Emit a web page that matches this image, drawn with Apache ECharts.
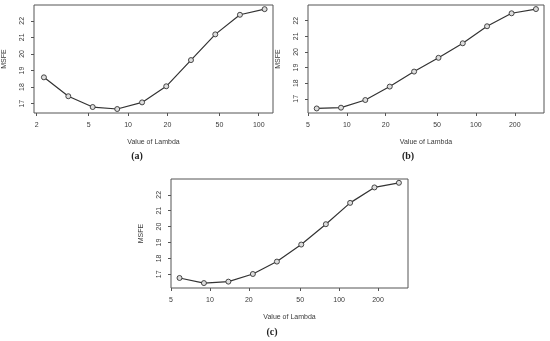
<!DOCTYPE html>
<html><head><meta charset="utf-8">
<style>html,body{margin:0;padding:0;background:#fff}#c{width:550px;height:341px}</style>
<script src="https://cdn.jsdelivr.net/npm/echarts@6/dist/echarts.min.js"></script>
</head><body><div id="c"></div>
<script>
const lambdaA = [2.27, 3.49, 5.36, 8.26, 12.8, 19.6, 30.3, 46.5, 71.8, 110.9];
const msfeA = [18.59, 17.45, 16.80, 16.68, 17.08, 18.05, 19.63, 21.18, 22.36, 22.70];
const lambdaB = [5.84, 9.01, 13.9, 21.5, 33.2, 51.3, 79.1, 122, 189, 292];
const msfeB = [16.38, 16.43, 16.92, 17.78, 18.74, 19.62, 20.55, 21.64, 22.47, 22.74];
const lambdaC = [5.82, 8.99, 13.9, 21.5, 33.0, 50.9, 78.9, 121.6, 187.5, 290];
const msfeC = [16.77, 16.45, 16.54, 17.02, 17.80, 18.87, 20.15, 21.49, 22.46, 22.75];
const xTicksA = [2, 5, 10, 20, 50, 100];
const xTicksBC = [5, 10, 20, 50, 100, 200];
const yTicks = [17, 18, 19, 20, 21, 22];
const captions = ['(a)', '(b)', '(c)'];
const xTitle = 'Value of Lambda';
const yTitle = 'MSFE';

const chart = echarts.init(document.getElementById('c'), null, {renderer: 'canvas'});
const txt = '#3a3a3a';
const axisFont = {fontFamily: 'Liberation Sans', fontSize: 7, color: txt};

const panels = [
  {grid: {left: 34, top: 5, width: 239, height: 108}, xmin: 1.906, xmax: 128.6, ymin: 16.44, ymax: 22.95, xt: xTicksA, xs: lambdaA, ys: msfeA},
  {grid: {left: 308, top: 5, width: 236, height: 108}, xmin: 5.0, xmax: 337, ymin: 16.09, ymax: 23.0, xt: xTicksBC, xs: lambdaB, ys: msfeB},
  {grid: {left: 171, top: 179, width: 237, height: 109}, xmin: 5.0, xmax: 341, ymin: 16.14, ymax: 22.99, xt: xTicksBC, xs: lambdaC, ys: msfeC}
];

const option = {
  animation: false,
  backgroundColor: '#fff',
  grid: panels.map(p => Object.assign({show: true, borderColor: '#555', borderWidth: 1, backgroundColor: 'transparent'}, p.grid)),
  xAxis: panels.map((p, i) => ({
    type: 'log', logBase: 10, gridIndex: i, min: p.xmin, max: p.xmax,
    name: xTitle, nameLocation: 'middle', nameGap: 26,
    nameTextStyle: axisFont,
    axisLine: {show: false},
    splitLine: {show: false},
    minorTick: {show: false},
    axisTick: {show: true, length: 3, lineStyle: {color: '#555'}, customValues: p.xt},
    axisLabel: Object.assign({margin: 9, customValues: p.xt, formatter: v => String(v)}, axisFont)
  })),
  yAxis: panels.map((p, i) => ({
    type: 'value', gridIndex: i, min: p.ymin, max: p.ymax,
    name: yTitle, nameLocation: 'middle', nameGap: 26, nameRotate: 90,
    nameTextStyle: axisFont,
    axisLine: {show: false},
    splitLine: {show: false},
    axisTick: {show: true, length: 3, lineStyle: {color: '#555'}, customValues: yTicks},
    axisLabel: Object.assign({margin: 8, rotate: 90, customValues: yTicks, formatter: v => String(v)}, axisFont)
  })),
  title: [
    {text: captions[0], left: 137, top: 151},
    {text: captions[1], left: 408, top: 151},
    {text: captions[2], left: 272, top: 327}
  ].map(t => Object.assign(t, {textAlign: 'center', padding: 0, textStyle: {fontFamily: 'Liberation Serif', fontWeight: 'bold', fontSize: 10, color: '#222'}})),
  series: panels.map((p, i) => ({
    type: 'line', xAxisIndex: i, yAxisIndex: i,
    data: p.xs.map((x, j) => [x, p.ys[j]]),
    symbol: 'circle', symbolSize: 5,
    lineStyle: {color: '#333', width: 1.2},
    itemStyle: {color: '#ddd', borderColor: '#333', borderWidth: 0.9}
  }))
};
chart.setOption(option);
</script></body></html>
